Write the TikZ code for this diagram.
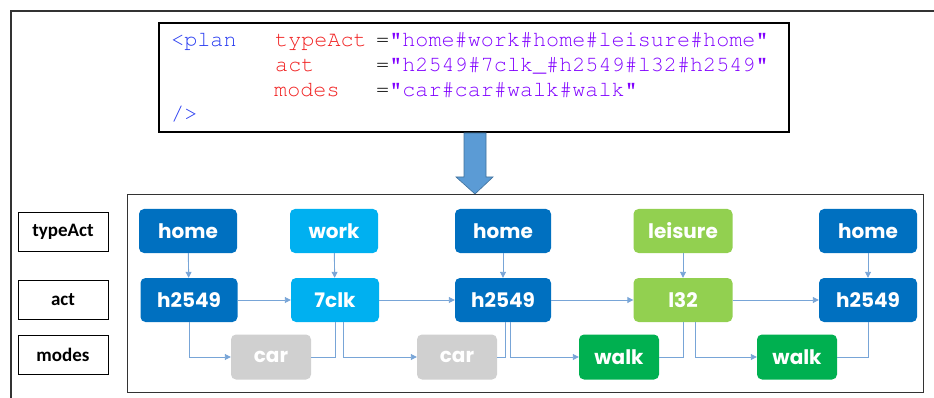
\documentclass[tikz,border=0pt]{standalone}
\usepackage[T1]{fontenc}
\usepackage{fontspec}
\usetikzlibrary{arrows.meta}
\newcommand\codefont{\fontencoding{T1}\fontfamily{pcr}\selectfont}
\newfontfamily\boxfont{Poppins}
\newfontfamily\labelfont{Carlito}
\definecolor{homeblue}{RGB}{0,112,192}
\definecolor{workblue}{RGB}{0,176,240}
\definecolor{leisuregreen}{RGB}{146,208,80}
\definecolor{walkgreen}{RGB}{0,176,80}
\definecolor{cargray}{RGB}{208,208,208}
\definecolor{linkblue}{RGB}{120,165,215}
\definecolor{arrowblue}{RGB}{91,155,213}
\definecolor{arrowedge}{RGB}{65,113,156}
\definecolor{tagblue}{RGB}{40,60,240}
\definecolor{attrred}{RGB}{240,30,30}
\definecolor{valpurple}{RGB}{128,0,255}
\begin{document}
\begin{tikzpicture}[x=1pt,y=-1pt,
    box/.style={rounded corners=5pt,minimum height=44pt,inner sep=0pt,text=white,
      font=\boxfont\bfseries\fontsize{20}{24}\selectfont},
    modebox/.style={box,minimum width=80pt,minimum height=45pt},
    labelbox/.style={draw,line width=1pt,minimum width=90pt,minimum height=39pt,inner sep=0pt,
      font=\labelfont\bfseries\fontsize{19}{22}\selectfont},
    codetext/.style={anchor=base west,inner sep=0pt,font=\codefont\fontsize{21.8}{24}\selectfont},
    link/.style={draw=linkblue,line width=0.9pt},
    arr/.style={link,-{Triangle[length=6pt,width=6pt]}}]
    \useasboundingbox (0,0) rectangle (934,398);
    \draw[line width=1.3pt,black!80] (11,398) -- (11,11) -- (934,11);

    \node[draw,line width=1.8pt,minimum width=630pt,minimum height=109pt] (xml) at (474,77.5) {};
    \node[codetext,text=tagblue] (tag) at (171,47) {<plan};
    \node[codetext,text=attrred] (ktype) at (275,47) {typeAct};
    \node[codetext,text=attrred] (kact) at (275,72) {act};
    \node[codetext,text=attrred] (kmodes) at (274,97) {modes};
    \node[codetext] (vtype) at (376,47) {=\textcolor{valpurple}{"home\#work\#home\#leisure\#home"}};
    \node[codetext] (vact) at (376,72) {=\textcolor{valpurple}{"h2549\#7clk\_\#h2549\#l32\#h2549"}};
    \node[codetext] (vmodes) at (376,97) {=\textcolor{valpurple}{"car\#car\#walk\#walk"}};
    \node[codetext,text=tagblue] (close) at (171,121) {/>};

    \filldraw[fill=arrowblue,draw=arrowedge,line width=0.6pt]
      (464,133) -- (486,133) -- (486,177) -- (493,177) -- (475,194) -- (456,177) -- (464,177) -- cycle;

    \node[draw,line width=1pt,black!80,minimum width=796pt,minimum height=197pt] (plans) at (525,293.5) {};

    \node[labelbox] (ltype) at (63,232) {typeAct};
    \node[labelbox] (lact) at (63,299.5) {act};
    \node[labelbox] (lmodes) at (63,354.5) {modes};

    \node[box,fill=homeblue,minimum width=98pt] (t1) at (188,231) {home};
    \node[box,fill=workblue,minimum width=88pt] (t2) at (334,231) {work};
    \node[box,fill=homeblue,minimum width=96pt] (t3) at (503,231) {home};
    \node[box,fill=leisuregreen,minimum width=99pt] (t4) at (683,231) {leisure};
    \node[box,fill=homeblue,minimum width=98pt] (t5) at (868,231) {home};

    \node[box,fill=homeblue,minimum width=97pt] (a1) at (189,300) {h2549};
    \node[box,fill=workblue,minimum width=88pt] (a2) at (335,300) {7clk};
    \node[box,fill=homeblue,minimum width=96pt] (a3) at (503,300) {h2549};
    \node[box,fill=leisuregreen,minimum width=99pt] (a4) at (683,300) {l32};
    \node[box,fill=homeblue,minimum width=98pt] (a5) at (868,300) {h2549};

    \node[modebox,fill=cargray] (m1) at (271,357) {car};
    \node[modebox,fill=cargray] (m2) at (457,357) {car};
    \node[modebox,fill=walkgreen] (m3) at (619,357) {walk};
    \node[modebox,fill=walkgreen] (m4) at (797,357) {walk};

    \foreach \i in {1,...,5}
      \draw[arr] (t\i) -- (a\i);
    \foreach \i/\j in {1/2,2/3,3/4,4/5}
      \draw[arr] (a\i) -- (a\j);

    \draw[arr] (a1.south) |- (m1);
    \draw[link] (m1) -| (a2.south);
    \draw[arr] ([xshift=8pt]a2.south) |- (m2);
    \draw[link] (m2) -| ([xshift=2pt]a3.south);
    \draw[arr] ([xshift=7pt]a3.south) |- (m3);
    \draw[link] (m3) -| (a4.south);
    \draw[arr] ([xshift=12pt]a4.south) |- (m4);
    \draw[link] (m4) -| (a5.south);
  \end{tikzpicture}
\end{document}
